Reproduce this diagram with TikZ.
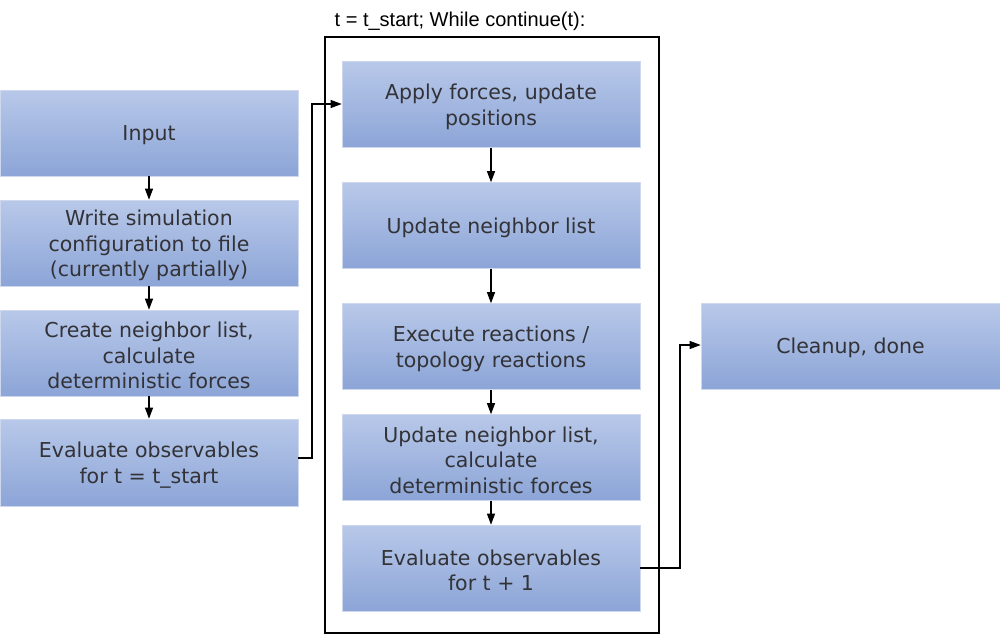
\documentclass[tikz,border=0pt]{standalone}
\usepackage{fontspec}
\setmainfont{DejaVu Sans}
\newfontfamily\titlefont{Liberation Sans}
\usetikzlibrary{arrows.meta}
\definecolor{boxtop}{RGB}{184,200,233}
\definecolor{boxbot}{RGB}{140,165,215}
\definecolor{boxline}{RGB}{205,215,238}
\definecolor{txt}{RGB}{50,50,55}
\newcommand{\boxtext}[1]{\parbox{290pt}{\centering\vspace*{5pt}#1}}
\tikzset{
  stepbox/.style={rectangle, top color=boxtop, bottom color=boxbot, draw=boxline, line width=0.6pt,
    minimum width=298pt, minimum height=86pt, inner sep=0pt,
    text=txt, font=\fontsize{20.5}{25.5}\selectfont},
  conn/.style={draw=black, line width=1.1pt, -{Triangle[length=11pt,width=8pt]}},
  frame/.style={draw=black, line width=1.1pt}
}
\begin{document}
\begin{tikzpicture}[x=1pt,y=-1pt]
\useasboundingbox (0,0) rectangle (1000,634);
% outer loop frame
\draw[frame] (325,37) rectangle (659,633);
\node[font=\titlefont\fontsize{20}{22}\selectfont, anchor=base] (title) at (460,27) {t = t\_start; While continue(t):};
% left column
\node[stepbox, text depth=-3pt] (input) at (149,133) {Input};
\node[stepbox] (write) at (149,243) {\boxtext{Write simulation\\configuration to file\\(currently partially)}};
\node[stepbox] (create) at (149,353) {\boxtext{Create neighbor list,\\calculate\\deterministic forces}};
\node[stepbox, minimum height=87pt] (evall) at (149,462.5) {\boxtext{Evaluate observables\\for t = t\_start}};
% middle column
\node[stepbox] (apply) at (491,104.5) {\boxtext{Apply forces, update\\positions}};
\node[stepbox, text depth=-3pt] (upd) at (491,225.5) {Update neighbor list};
\node[stepbox] (exec) at (491,346.5) {\boxtext{Execute reactions /\\topology reactions}};
\node[stepbox] (upd2) at (491,457.5) {\boxtext{Update neighbor list,\\calculate\\deterministic forces}};
\node[stepbox] (evalm) at (491,568) {\boxtext{Evaluate observables\\for t + 1}};
% right
\node[stepbox, minimum width=299pt, text depth=-3pt] (clean) at (850.5,346) {Cleanup, done};
% connectors
\draw[conn] (input) -- (write);
\draw[conn] (write) -- (create);
\draw[conn] (create) -- (evall);
\coordinate (c1) at (312,458);
\coordinate (c2) at (312,104);
\draw[conn] (evall.east |- c1) -- (c1) -- (c2) -- (apply.west |- c2);
\draw[conn] (apply) -- (upd);
\draw[conn] (upd) -- (exec);
\draw[conn] (exec) -- (upd2);
\draw[conn] (upd2) -- (evalm);
\coordinate (d1) at (680,568);
\coordinate (d2) at (680,345);
\draw[conn] (evalm.east) -- (d1) -- (d2) -- (clean.west |- d2);
\end{tikzpicture}
\end{document}
